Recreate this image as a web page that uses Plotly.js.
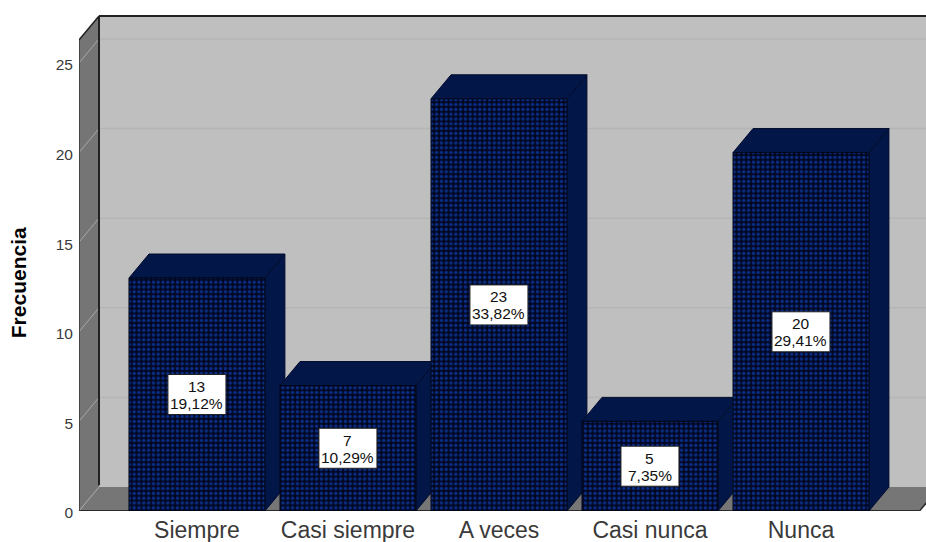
<!DOCTYPE html>
<html>
<head>
<meta charset="utf-8">
<script src="https://cdn.plot.ly/plotly-3.0.1.min.js"></script>
<style>html,body{margin:0;padding:0;background:#fff;overflow:hidden}#chart{width:926px;height:542px}</style>
</head>
<body>
<div id="chart"></div>
<script>
// Frequency table
const categories = ['Siempre', 'Casi siempre', 'A veces', 'Casi nunca', 'Nunca'];
const frecuencias = [13, 7, 23, 5, 20];
const porcentajes = ['19,12%', '10,29%', '33,82%', '7,35%', '29,41%'];
const yTicks = [0, 5, 10, 15, 20, 25];

// Oblique projection of the box: how far the back plane is shifted, in axis units
const depthX = 0.1325;
const depthY = 1.34;
const barWidth = 0.9;
const xMin = -0.781, xMax = 4.828, yMax = 27.9;
const floorEnd = 4.785;
const wallTop = 26.28;

const faceColor = '#031648';
const edgeColor = '#020c2c';
const font = 'Liberation Sans, Arial, sans-serif';

function poly(xs, ys, name) {
  return {type: 'scatter', mode: 'lines', x: xs, y: ys, fill: 'toself', fillcolor: faceColor,
    line: {color: edgeColor, width: 1}, hoverinfo: 'skip', showlegend: false, cliponaxis: false, name: name};
}

const traces = [];
categories.forEach((c, i) => {
  const v = frecuencias[i], l = i - barWidth / 2, r = i + barWidth / 2;
  // right side face, then top face
  traces.push(poly([r, r + depthX, r + depthX, r, r], [0, depthY, v + depthY, v, 0], c));
  traces.push(poly([l, l + depthX, r + depthX, r, l], [v, v + depthY, v + depthY, v, v], c));
});
// Front faces sit on an overlaying axis pair so they cover the neighbouring side faces
traces.push({
  type: 'bar', x: categories.map((c, i) => i), y: frecuencias, width: barWidth, xaxis: 'x2', yaxis: 'y2',
  marker: {color: '#020a2a', line: {color: '#010716', width: 1},
    pattern: {shape: '.', size: 4.8, solidity: 0.38, fgcolor: '#0a2e86', bgcolor: '#020824', fillmode: 'replace'}},
  hoverinfo: 'skip', showlegend: false
});

const shapes = [];
function addPath(d, fill) {
  shapes.push({type: 'path', xref: 'x', yref: 'y', layer: 'below', path: d, fillcolor: fill,
    line: {color: 'rgba(0,0,0,0)', width: 0}});
}
function addLine(x0, y0, x1, y1, color, width) {
  shapes.push({type: 'line', xref: 'x', yref: 'y', layer: 'below', x0, y0, x1, y1, line: {color, width}});
}
const bx = xMin + depthX;
// back wall, left wall, floor
addPath(`M${bx},${depthY}L${xMax + 1},${depthY}L${xMax + 1},${wallTop + depthY}L${bx},${wallTop + depthY}Z`, '#bfbfbf');
addPath(`M${xMin},0L${bx},${depthY}L${bx},${wallTop + depthY}L${xMin},${wallTop}Z`, '#757575');
addPath(`M${xMin},0L${bx},${depthY}L${floorEnd + depthX},${depthY}L${floorEnd},0Z`, '#767676');
// grid lines on the back wall and their continuation across the left wall
yTicks.forEach(t => {
  if (t > 0) addLine(bx, t + depthY, xMax + 1, t + depthY, '#b5b5b5', 1.5);
  addLine(xMin, t, bx, t + depthY, '#a8a8a8', 1);
});
// box edges
addLine(bx, wallTop + depthY, xMax + 1, wallTop + depthY, '#222222', 2);
addLine(bx, 0.1 + depthY, bx, wallTop + depthY, '#222222', 2);
addLine(xMin, wallTop, bx, wallTop + depthY, '#222222', 1.5);
addLine(xMin, 0, xMin, wallTop, '#333333', 1.5);
addLine(xMin, 0, floorEnd, 0, '#2a2a2a', 2);
addLine(floorEnd, 0, floorEnd + depthX, depthY, '#2a2a2a', 1.5);

// Each bar carries a white box at half height: count on top, share below
const annotations = [];
categories.forEach((c, i) => {
  const mid = frecuencias[i] / 2;
  shapes.push({type: 'rect', layer: 'above', xref: 'x', yref: 'y',
    xsizemode: 'pixel', ysizemode: 'pixel', xanchor: i, yanchor: mid,
    x0: -29, x1: 29, y0: -20, y1: 20,
    fillcolor: '#ffffff', line: {color: '#222222', width: 1}});
  annotations.push({
    x: i, y: mid, xref: 'x', yref: 'y', yshift: 8, showarrow: false,
    text: String(frecuencias[i]),
    font: {family: font, size: 15.5, color: '#111111'}
  });
  annotations.push({
    x: i, y: mid, xref: 'x', yref: 'y', yshift: -9, showarrow: false,
    text: porcentajes[i],
    font: {family: font, size: 15.5, color: '#111111'}
  });
});
// Axis title, centred a little below the middle of the plot
annotations.push({
  xref: 'paper', yref: 'paper', x: -0.0874, y: 0.4565, showarrow: false, textangle: -90,
  text: '<b>Frecuencia</b>', font: {family: font, size: 21, color: '#000000'}
});

const layout = {
  width: 926, height: 542, paper_bgcolor: '#ffffff', plot_bgcolor: 'rgba(0,0,0,0)',
  margin: {l: 79, r: 0, t: 11, b: 31, autoexpand: false},
  showlegend: false, barmode: 'overlay',
  xaxis: {range: [xMin, xMax], tickmode: 'array', tickvals: categories.map((c, i) => i), ticktext: categories,
    showgrid: false, zeroline: false, showline: false, ticks: '', ticklabelstandoff: 3,
    tickfont: {family: font, size: 23, color: '#3a3a3a'}},
  yaxis: {range: [0, yMax], tickmode: 'array', tickvals: yTicks, showgrid: false, zeroline: false, showline: false,
    ticks: '', ticklabelstandoff: 5, ticklabelshift: 2,
    tickfont: {family: font, size: 15.5, color: '#3a3a3a'}},
  xaxis2: {range: [xMin, xMax], overlaying: 'x', visible: false},
  yaxis2: {range: [0, yMax], overlaying: 'y', visible: false},
  shapes, annotations
};
Plotly.newPlot('chart', traces, layout, {displayModeBar: false, staticPlot: true});
</script>
</body>
</html>
